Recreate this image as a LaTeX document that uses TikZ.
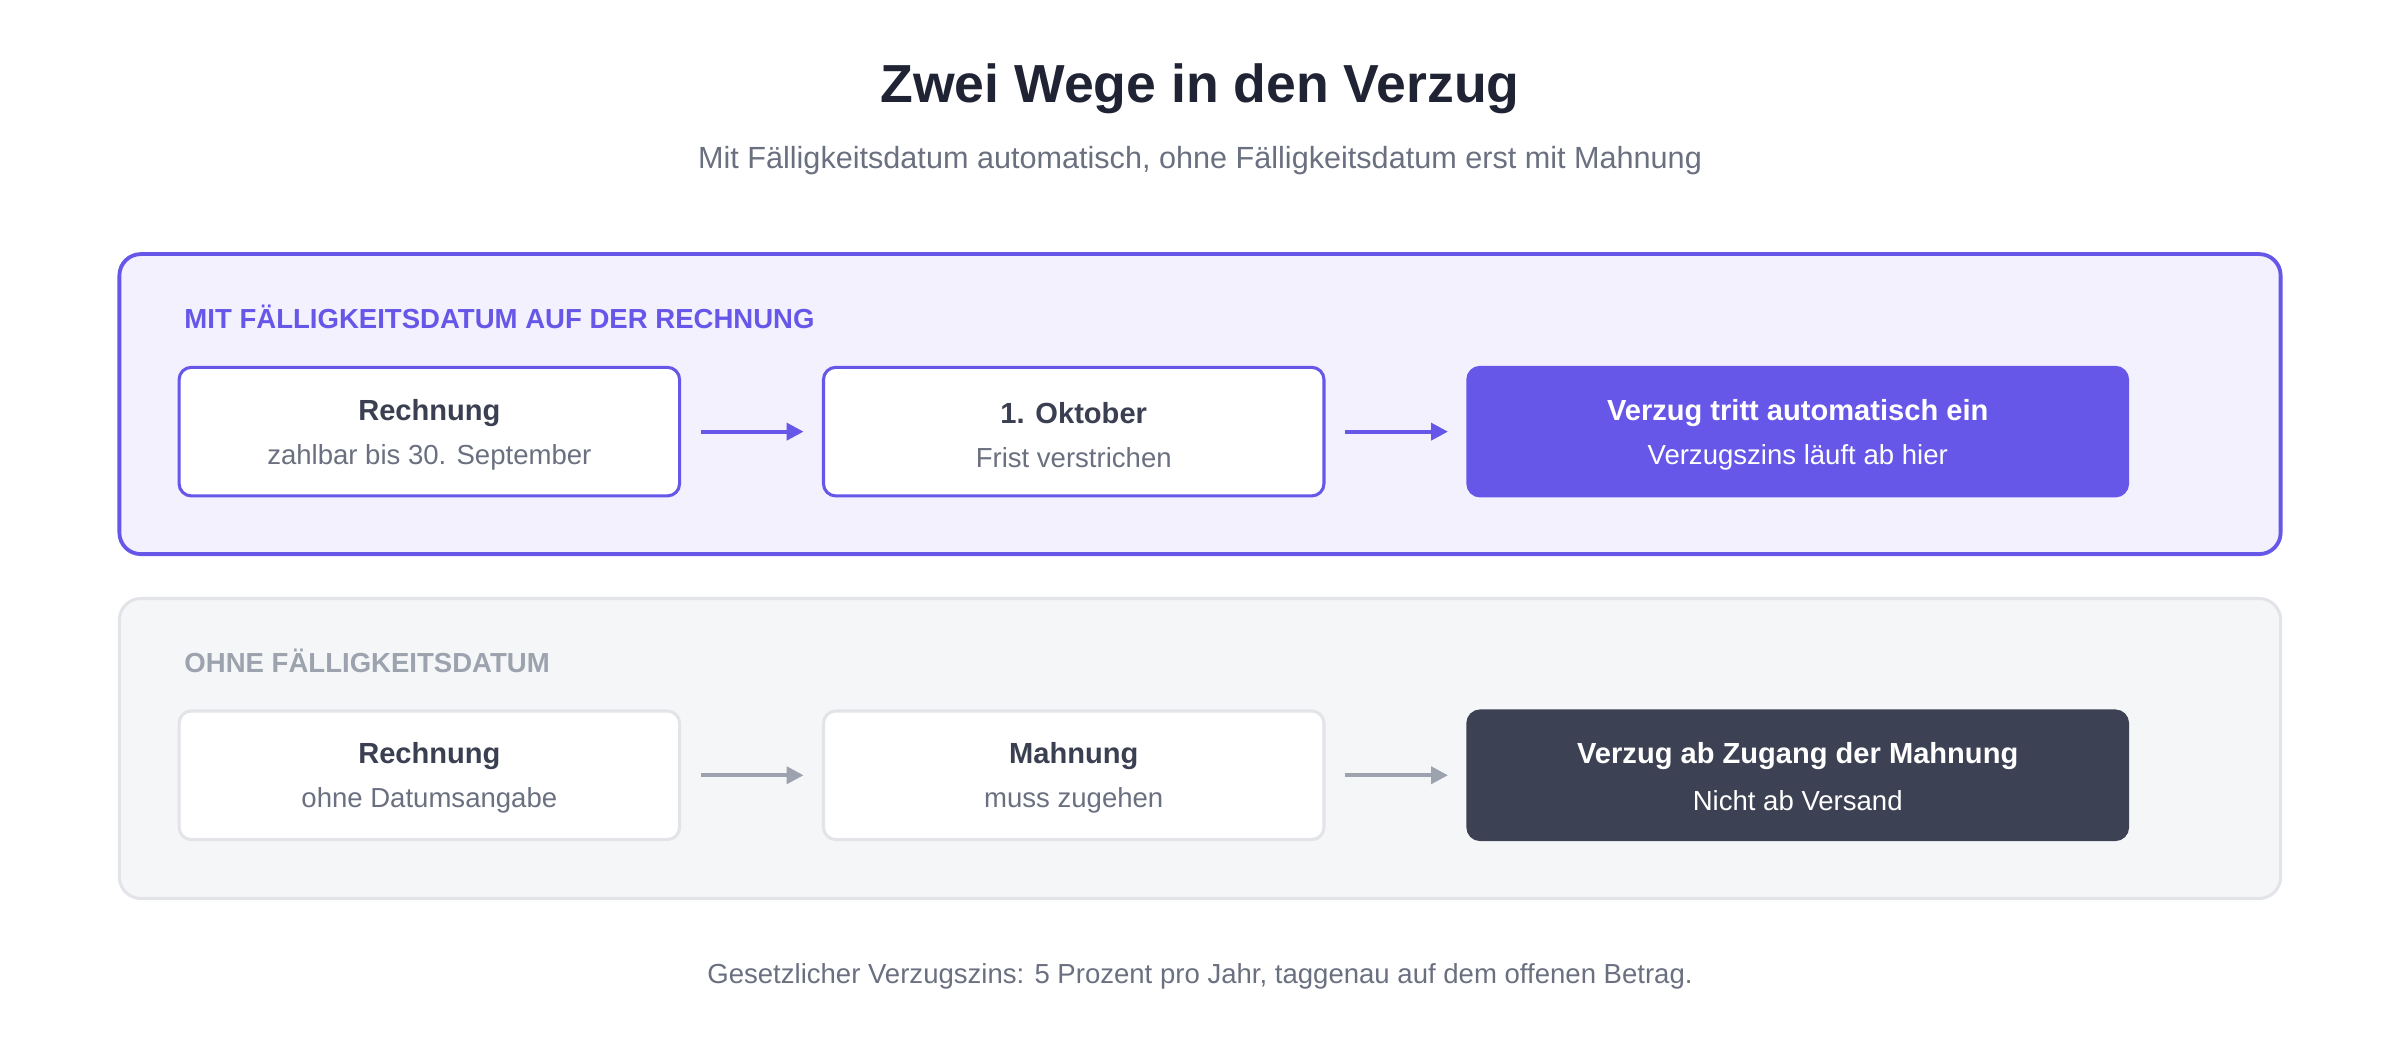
\documentclass[tikz,border=0pt]{standalone}
\usepackage{fontspec}
\setmainfont{Liberation Sans}
\usetikzlibrary{arrows.meta}
\definecolor{pur}{HTML}{6657E8}
\definecolor{purbg}{HTML}{F3F1FE}
\definecolor{gbg}{HTML}{F5F6F8}
\definecolor{gbd}{HTML}{E2E4E8}
\definecolor{glab}{HTML}{9CA3AF}
\definecolor{dark}{HTML}{3D4154}
\definecolor{txt}{HTML}{3A3F52}
\definecolor{sub}{HTML}{6B7080}
\definecolor{ttl}{HTML}{1F2333}
\begin{document}
\begin{tikzpicture}[x=1pt,y=-1pt,
  panel/.style={rounded corners=14pt,line width=2.5pt},
  stepbox/.style={rounded corners=8pt,line width=2pt,minimum width=327pt,minimum height=84pt,align=center,inner sep=0pt},
  bigbox/.style={stepbox,minimum width=431pt},
  l1/.style={font=\fontsize{19}{23}\selectfont\bfseries},
  l2/.style={font=\fontsize{18}{22}\selectfont},
  arr/.style={line width=2.5pt,-{Triangle[length=11pt,width=11pt]}},
  lab/.style={anchor=west,font=\fontsize{18}{22}\selectfont\bfseries}]
\useasboundingbox (0,0) rectangle (1568,679.5);
\node[font=\fontsize{35}{40}\selectfont\bfseries,text=ttl] (t) at (784,58) {Zwei Wege in den Verzug};
\node[font=\fontsize{20}{24}\selectfont,text=sub] (s) at (784,105) {Mit Fälligkeitsdatum automatisch, ohne Fälligkeitsdatum erst mit Mahnung};
% panel 1
\draw[panel,draw=pur,fill=purbg] (78,166) rectangle (1490,362);
\node[lab,text=pur] (p1) at (117,207) {MIT FÄLLIGKEITSDATUM AUF DER RECHNUNG};
\node[stepbox,draw=pur,fill=white] (a1) at (280.5,282) {};
\node[stepbox,draw=pur,fill=white] (a2) at (701.5,282) {};
\node[bigbox,draw=pur,fill=pur] (a3) at (1174.5,282) {};
\node[l1,text=txt] at (280.5,270) {Rechnung};
\node[l2,text=sub] at (280.5,299) {zahlbar bis 30. September};
\node[l1,text=txt] at (701.5,270) {1. Oktober};
\node[l2,text=sub] at (701.5,299) {Frist verstrichen};
\node[l1,text=white] at (1174.5,270) {Verzug tritt automatisch ein};
\node[l2,text=white] at (1174.5,299) {Verzugszins läuft ab hier};
\draw[arr,pur] ([xshift=13pt]a1.east) -- ([xshift=-12pt]a2.west);
\draw[arr,pur] ([xshift=13pt]a2.east) -- ([xshift=-12pt]a3.west);
% panel 2
\draw[panel,line width=2pt,draw=gbd,fill=gbg] (78,391) rectangle (1490,587);
\node[lab,text=glab] (p2) at (117,432) {OHNE FÄLLIGKEITSDATUM};
\node[stepbox,draw=gbd,fill=white] (b1) at (280.5,506.5) {};
\node[stepbox,draw=gbd,fill=white] (b2) at (701.5,506.5) {};
\node[bigbox,draw=dark,fill=dark] (b3) at (1174.5,506.5) {};
\node[l1,text=txt] at (280.5,494) {Rechnung};
\node[l2,text=sub] at (280.5,523) {ohne Datumsangabe};
\node[l1,text=txt] at (701.5,494) {Mahnung};
\node[l2,text=sub] at (701.5,523) {muss zugehen};
\node[l1,text=white] at (1174.5,494) {Verzug ab Zugang der Mahnung};
\node[l2,text=white] at (1174.5,523) {Nicht ab Versand};
\draw[arr,glab] ([xshift=13pt]b1.east) -- ([xshift=-12pt]b2.west);
\draw[arr,glab] ([xshift=13pt]b2.east) -- ([xshift=-12pt]b3.west);
\node[font=\fontsize{18}{22}\selectfont,text=sub] (f) at (784,638) {Gesetzlicher Verzugszins: 5 Prozent pro Jahr, taggenau auf dem offenen Betrag.};
\end{tikzpicture}
\end{document}
